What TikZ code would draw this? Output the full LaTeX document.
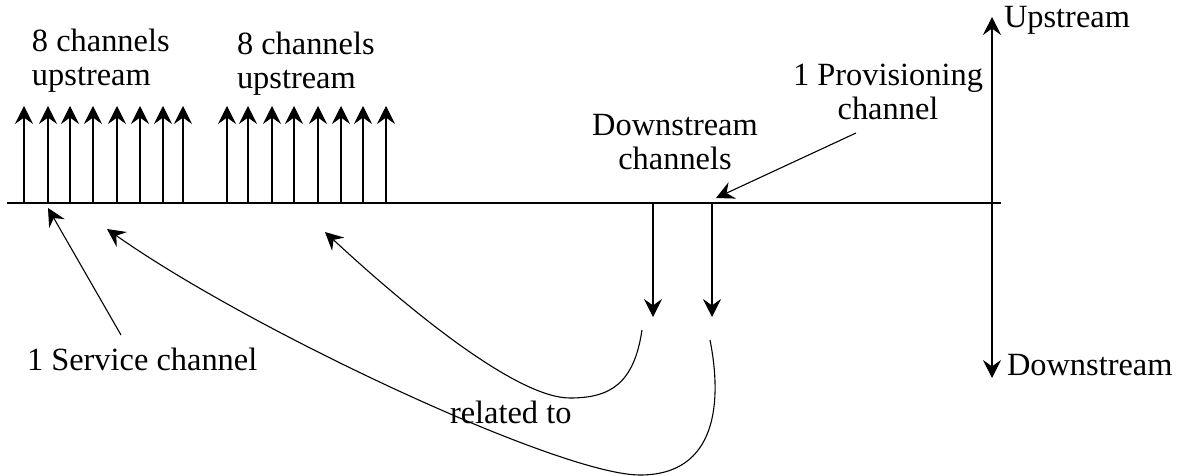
\documentclass[tikz,border=0pt]{standalone}
\usepackage{fontspec}
\setmainfont{Liberation Serif}
\usetikzlibrary{arrows.meta}
\begin{document}
\begin{tikzpicture}[x=0.5pt,y=-0.5pt,
  every node/.style={inner sep=0pt, outer sep=0pt, font=\fontsize{16.2}{17}\selectfont},
  ln/.style={line width=0.55pt, black},
  arr/.style={ln, -{Stealth[length=9pt, width=9pt, inset=3.2pt]}},
  lbl/.style={align=center},
]
\useasboundingbox (0,0) rectangle (1184,476);
% baseline axis
\coordinate (L) at (7,203);
\coordinate (R) at (1001,203);
\draw[ln] (L) -- (R);
% upstream channel arrows
\foreach \i/\x in {1/24,2/48,3/70,4/93,5/117,6/140,7/163,8/183,9/227,10/248,11/272,12/294,13/318,14/341,15/363,16/386}{
  \coordinate (b\i) at (\x,203);
  \coordinate (t\i) at (\x,106);
  \draw[arr] (b\i) -- (t\i);
}
% labels
\node[anchor=north west, align=left] (g1) at (32,29) {8 channels\\upstream};
\node[anchor=north west, align=left] (g2) at (237,32) {8 channels\\upstream};
\node[anchor=north, lbl] (dsc) at (675,114) {Downstream\\channels};
\node[anchor=north, lbl] (prov) at (888,64) {1 Provisioning\\channel};
\node[anchor=base west] (up) at (1004,28) {Upstream};
\node[anchor=base west] (down) at (1007,375) {Downstream};
\node[anchor=base west] (svc) at (27,370) {1 Service channel};
\node[anchor=base west] (rel) at (450,423) {related to};
% vertical axis
\coordinate (axT) at (992,17);
\coordinate (axB) at (992,378);
\coordinate (axM) at (992,203);
\draw[arr] (axM) -- (axT);
\draw[arr] (axM) -- (axB);
% downstream channel arrows
\coordinate (d1) at (653,203);
\coordinate (d1e) at (653,317);
\coordinate (d2) at (712,203);
\coordinate (d2e) at (712,317);
\draw[arr] (d1) -- (d1e);
\draw[arr] (d2) -- (d2e);
% provisioning pointer
\coordinate (pS) at (856,133);
\coordinate (pE) at (716,198);
\draw[arr] (pS) -- (pE);
% service pointer
\coordinate (sS) at (121,335);
\coordinate (sE) at (48,208);
\draw[arr] (sS) -- (sE);
% related curves
\coordinate (c1S) at (642,330);
\coordinate (c1M) at (570,398);
\coordinate (c1E) at (325,232);
\draw[arr] (c1S) .. controls (634,384) and (610,398) .. (c1M)
  .. controls (520,398) and (420,320) .. (c1E);
\coordinate (c2S) at (710,340);
\coordinate (c2M) at (640,475);
\coordinate (c2E) at (107,229);
\draw[arr] (c2S) .. controls (722,400) and (718,475) .. (c2M)
  .. controls (560,475) and (250,330) .. (c2E);
\end{tikzpicture}
\end{document}
